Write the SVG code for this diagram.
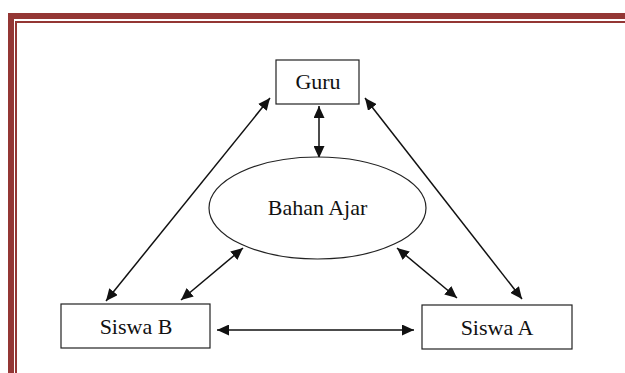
<svg xmlns="http://www.w3.org/2000/svg" width="625" height="373" viewBox="0 0 625 373">
<style>
.box{fill:#fff;stroke:#222;stroke-width:1.2}
.lbl{font-family:"Liberation Serif","Times New Roman",serif;font-size:22px;fill:#111;text-anchor:middle}
.con{stroke:#111;stroke-width:1.5;fill:none;marker-start:url(#ah);marker-end:url(#ah)}
</style>
<defs>
<marker id="ah" viewBox="0 0 12 11" refX="12" refY="5.5" markerWidth="12" markerHeight="11" markerUnits="userSpaceOnUse" orient="auto-start-reverse">
<path d="M0,0 L12,5.5 L0,11 Z" fill="#111"/>
</marker>
</defs>
<rect width="625" height="373" fill="#fff"/>
<g id="border" fill="#943634">
<rect x="8" y="13" width="617" height="6"/>
<rect x="8" y="13" width="6" height="360"/>
<rect x="15" y="21" width="610" height="2"/>
<rect x="15" y="21" width="2" height="352"/>
</g>
<g id="connectors">
<line class="con" x1="319" y1="106" x2="319" y2="158"/>
<line class="con" x1="270" y1="98" x2="106" y2="301"/>
<line class="con" x1="365" y1="98" x2="522" y2="299"/>
<line class="con" x1="243" y1="248" x2="181" y2="300"/>
<line class="con" x1="397" y1="248" x2="457" y2="298"/>
<line class="con" x1="217" y1="330" x2="414" y2="330"/>
</g>
<g id="guru">
<rect class="box" x="276" y="60" width="83" height="44"/>
<text class="lbl" x="318" y="89">Guru</text>
</g>
<g id="bahan-ajar">
<ellipse class="box" cx="317.5" cy="208" rx="108.5" ry="51"/>
<text class="lbl" x="317.5" y="215">Bahan Ajar</text>
</g>
<g id="siswa-b">
<rect class="box" x="61" y="304" width="149" height="44"/>
<text class="lbl" x="136" y="334">Siswa B</text>
</g>
<g id="siswa-a">
<rect class="box" x="422" y="305" width="150" height="44"/>
<text class="lbl" x="497" y="335">Siswa A</text>
</g>
</svg>
